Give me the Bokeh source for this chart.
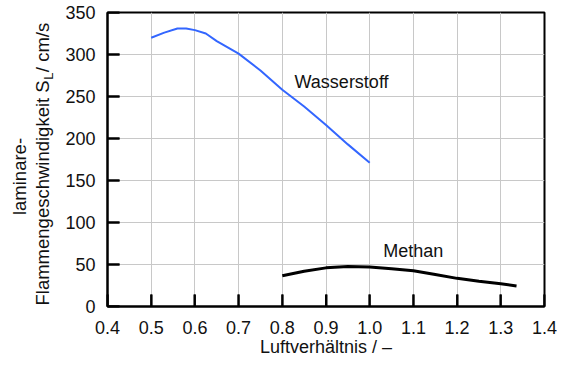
import math
from bokeh.plotting import figure
from bokeh.layouts import row
from bokeh.models import Range1d, FixedTicker, NumeralTickFormatter, Label
from bokeh.core.properties import value
from bokeh.embed import file_html
from bokeh.resources import INLINE

# ---- data ----
h2_x = [0.5, 0.53, 0.56, 0.58, 0.6, 0.625, 0.65, 0.7, 0.75, 0.8, 0.85, 0.9, 0.95, 1.0]
h2_y = [320, 326, 331, 331, 329, 325, 316, 301, 281, 258, 238, 216, 193, 171]
ch4_x = [0.8, 0.85, 0.9, 0.95, 1.0, 1.05, 1.1, 1.15, 1.2, 1.25, 1.3, 1.336]
ch4_y = [36.5, 42, 46, 47.5, 47, 45, 42.5, 38, 33.5, 30, 27, 24.5]
x_ticks = [0.4, 0.5, 0.6, 0.7, 0.8, 0.9, 1.0, 1.1, 1.2, 1.3, 1.4]
y_ticks = [0, 50, 100, 150, 200, 250, 300, 350]
x_title = "Luftverhältnis / –"
y_title_1 = "laminare-"
y_title_2a = "Flammengeschwindigkeit S"
y_title_2b = "L"
y_title_2c = "/ cm/s"
lbl_h2 = "Wasserstoff"
lbl_ch4 = "Methan"

FONT = "Liberation Sans"
TXT = "#111111"
TOTAL_W, H = 557, 362
SIDE_W = 56
MAIN_W = TOTAL_W - SIDE_W
ML, MR, MT, MB = 107 - SIDE_W, 13, 12, 56
X0, X1, Y0, Y1 = 0.4, 1.4, 0, 350

# ---- main plot ----
p = figure(width=MAIN_W, height=H, output_backend="svg", toolbar_location=None,
           x_range=Range1d(X0, X1), y_range=Range1d(Y0, Y1),
           min_border_left=ML, min_border_right=MR, min_border_top=MT, min_border_bottom=MB)
p.background_fill_color = "white"
p.border_fill_color = "white"
p.outline_line_color = "black"
p.outline_line_width = 2

for ax in (p.xaxis[0], p.yaxis[0]):
    ax.axis_line_width = 2
    ax.axis_line_color = "black"
    ax.major_tick_in = 12
    ax.major_tick_out = 0
    ax.major_tick_line_width = 2
    ax.major_tick_line_color = "black"
    ax.minor_tick_line_color = None
    ax.major_label_text_font = FONT
    ax.major_label_text_font_size = "18px"
    ax.major_label_text_color = TXT

p.xaxis.ticker = FixedTicker(ticks=x_ticks)
p.yaxis.ticker = FixedTicker(ticks=y_ticks)
p.xaxis.formatter = NumeralTickFormatter(format="0.0")
p.xaxis.major_label_standoff = 14
p.yaxis.major_label_standoff = 12
p.xaxis.axis_label = x_title
p.xaxis.axis_label_text_font = FONT
p.xaxis.axis_label_text_font_size = "18px"
p.xaxis.axis_label_text_font_style = "normal"
p.xaxis.axis_label_text_color = TXT
p.xaxis.axis_label_standoff = 0

p.xgrid.ticker = FixedTicker(ticks=x_ticks)
p.ygrid.ticker = FixedTicker(ticks=y_ticks)
p.grid.grid_line_color = "#c8c8c8"
p.grid.grid_line_width = 1

# inward tick marks (half of each dash lies outside the frame and is clipped)
p.scatter(x=x_ticks, y=[Y0] * len(x_ticks), marker="dash", angle=math.pi / 2, size=24,
          line_color="black", line_width=2)
p.scatter(x=[X0] * len(y_ticks), y=y_ticks, marker="dash", size=24,
          line_color="black", line_width=2)

p.line(h2_x, h2_y, line_color="#3366ff", line_width=2)
p.line(ch4_x, ch4_y, line_color="black", line_width=3)

p.add_layout(Label(x=0.828, y=267, text=lbl_h2, text_font=FONT, text_font_size="18px",
                   text_baseline="alphabetic", text_align="left", text_color=TXT))
p.add_layout(Label(x=1.031, y=65.5, text=lbl_ch4, text_font=FONT, text_font_size="18px",
                   text_baseline="alphabetic", text_align="left", text_color=TXT))

# ---- side panel holding the two-line rotated y-axis title (with subscript) ----
# same top/bottom borders as the main plot, so y data == H - screen_y
s = figure(width=SIDE_W, height=H, output_backend="svg", toolbar_location=None,
           x_range=Range1d(0, SIDE_W), y_range=Range1d(MB, H - MT),
           min_border_left=0, min_border_right=0, min_border_top=MT, min_border_bottom=MB)
s.axis.visible = False
s.grid.visible = False
s.outline_line_color = None
s.background_fill_color = "white"
s.border_fill_color = "white"

fs, fs_sub = 18.5, 13
w_a = 12.17 * fs
w_b = 0.556 * fs_sub
w_c = 2.667 * fs
start = 305                               # screen y where line 2 begins (bottom)
ang = math.pi / 2
mid = 0.3465                              # baseline -> "middle" offset (em)
base2 = 48
base1 = 25

s.text(x=[base2 - mid * fs], y=[H - start], text=[y_title_2a], angle=ang,
       text_font=value(FONT), text_font_size=f"{fs}px", text_color=TXT,
       text_baseline="middle", text_align="left")
s.text(x=[base2 + 4.5 - mid * fs_sub], y=[H - (start - w_a - 0.5)], text=[y_title_2b], angle=ang,
       text_font=value(FONT), text_font_size=f"{fs_sub}px", text_color=TXT,
       text_baseline="middle", text_align="left")
s.text(x=[base2 - mid * fs], y=[H - (start - w_a - w_b - 1)], text=[y_title_2c], angle=ang,
       text_font=value(FONT), text_font_size=f"{fs}px", text_color=TXT,
       text_baseline="middle", text_align="left")
s.text(x=[base1 - mid * fs], y=[H - 176], text=[y_title_1], angle=ang,
       text_font=value(FONT), text_font_size=f"{fs}px", text_color=TXT,
       text_baseline="middle", text_align="center")

layout = row(s, p, spacing=0)
open("out.html", "w").write(file_html(layout, INLINE))
